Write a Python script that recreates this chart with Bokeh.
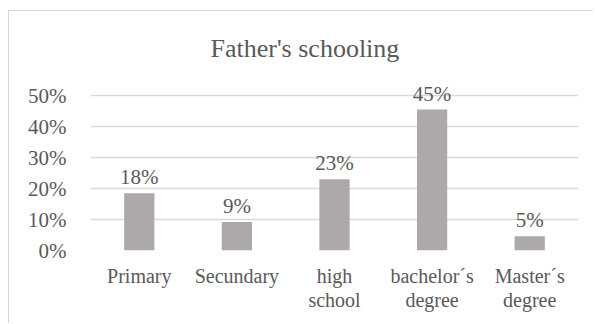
from bokeh.plotting import figure
from bokeh.models import Range1d, FixedTicker, NumeralTickFormatter, ColumnDataSource
from bokeh.core.properties import value
from bokeh.embed import file_html
from bokeh.resources import INLINE

categories = ["Primary", "Secundary", "high\nschool", "bachelor\u00b4s\ndegree", "Master\u00b4s\ndegree"]
values = [0.185, 0.092, 0.23, 0.455, 0.046]
labels = ["18%", "9%", "23%", "45%", "5%"]
y_ticks = [0.0, 0.1, 0.2, 0.3, 0.4, 0.5]
title_text = "Father's schooling"

FONT = "Liberation Serif"
TXT = "#595959"
GRID = "#D9D9D9"
BAR = "#ADA9A8"

src = ColumnDataSource(dict(x=categories, top=values, label=labels))

p = figure(width=585, height=313, x_range=categories, y_range=Range1d(0, 0.607),
           output_backend="svg", toolbar_location=None,
           min_border_left=81, min_border_right=16, min_border_top=51, min_border_bottom=74)
p.styles = {"margin-left": "8px", "margin-top": "10px",
            "border-left": "1.5px solid #D9D9D9", "border-top": "1.5px solid #D9D9D9"}
p.outline_line_color = None
p.background_fill_color = "white"
p.border_fill_color = "white"

p.title.text = title_text
p.title.align = "left"
p.title.offset = 120
p.title.standoff = 0
p.title.text_font = FONT
p.title.text_font_size = "26px"
p.title.text_font_style = "normal"
p.title.text_color = TXT

p.vbar(x="x", top="top", width=0.31, source=src, fill_color=BAR, line_color=None)
p.text(x="x", y="top", text="label", source=src, text_align="center", text_baseline="alphabetic",
       y_offset=-16, text_font=value(FONT), text_font_size="21px", text_color=TXT)

p.xgrid.grid_line_color = None
p.ygrid.grid_line_color = GRID
p.ygrid.grid_line_width = 1.5
p.yaxis.ticker = FixedTicker(ticks=y_ticks)
p.yaxis.formatter = NumeralTickFormatter(format="0%")
for ax in (p.xaxis, p.yaxis):
    ax.axis_line_color = None
    ax.major_tick_line_color = None
    ax.minor_tick_line_color = None
    ax.major_label_text_font = FONT
    ax.major_label_text_font_size = "21px"
    ax.major_label_text_color = TXT
p.xaxis.major_label_text_font_size = "20px"
p.xaxis.major_label_text_line_height = 1.1
p.yaxis.major_label_standoff = 18
p.xaxis.major_label_standoff = 8

open("out.html", "w").write(file_html(p, INLINE))
